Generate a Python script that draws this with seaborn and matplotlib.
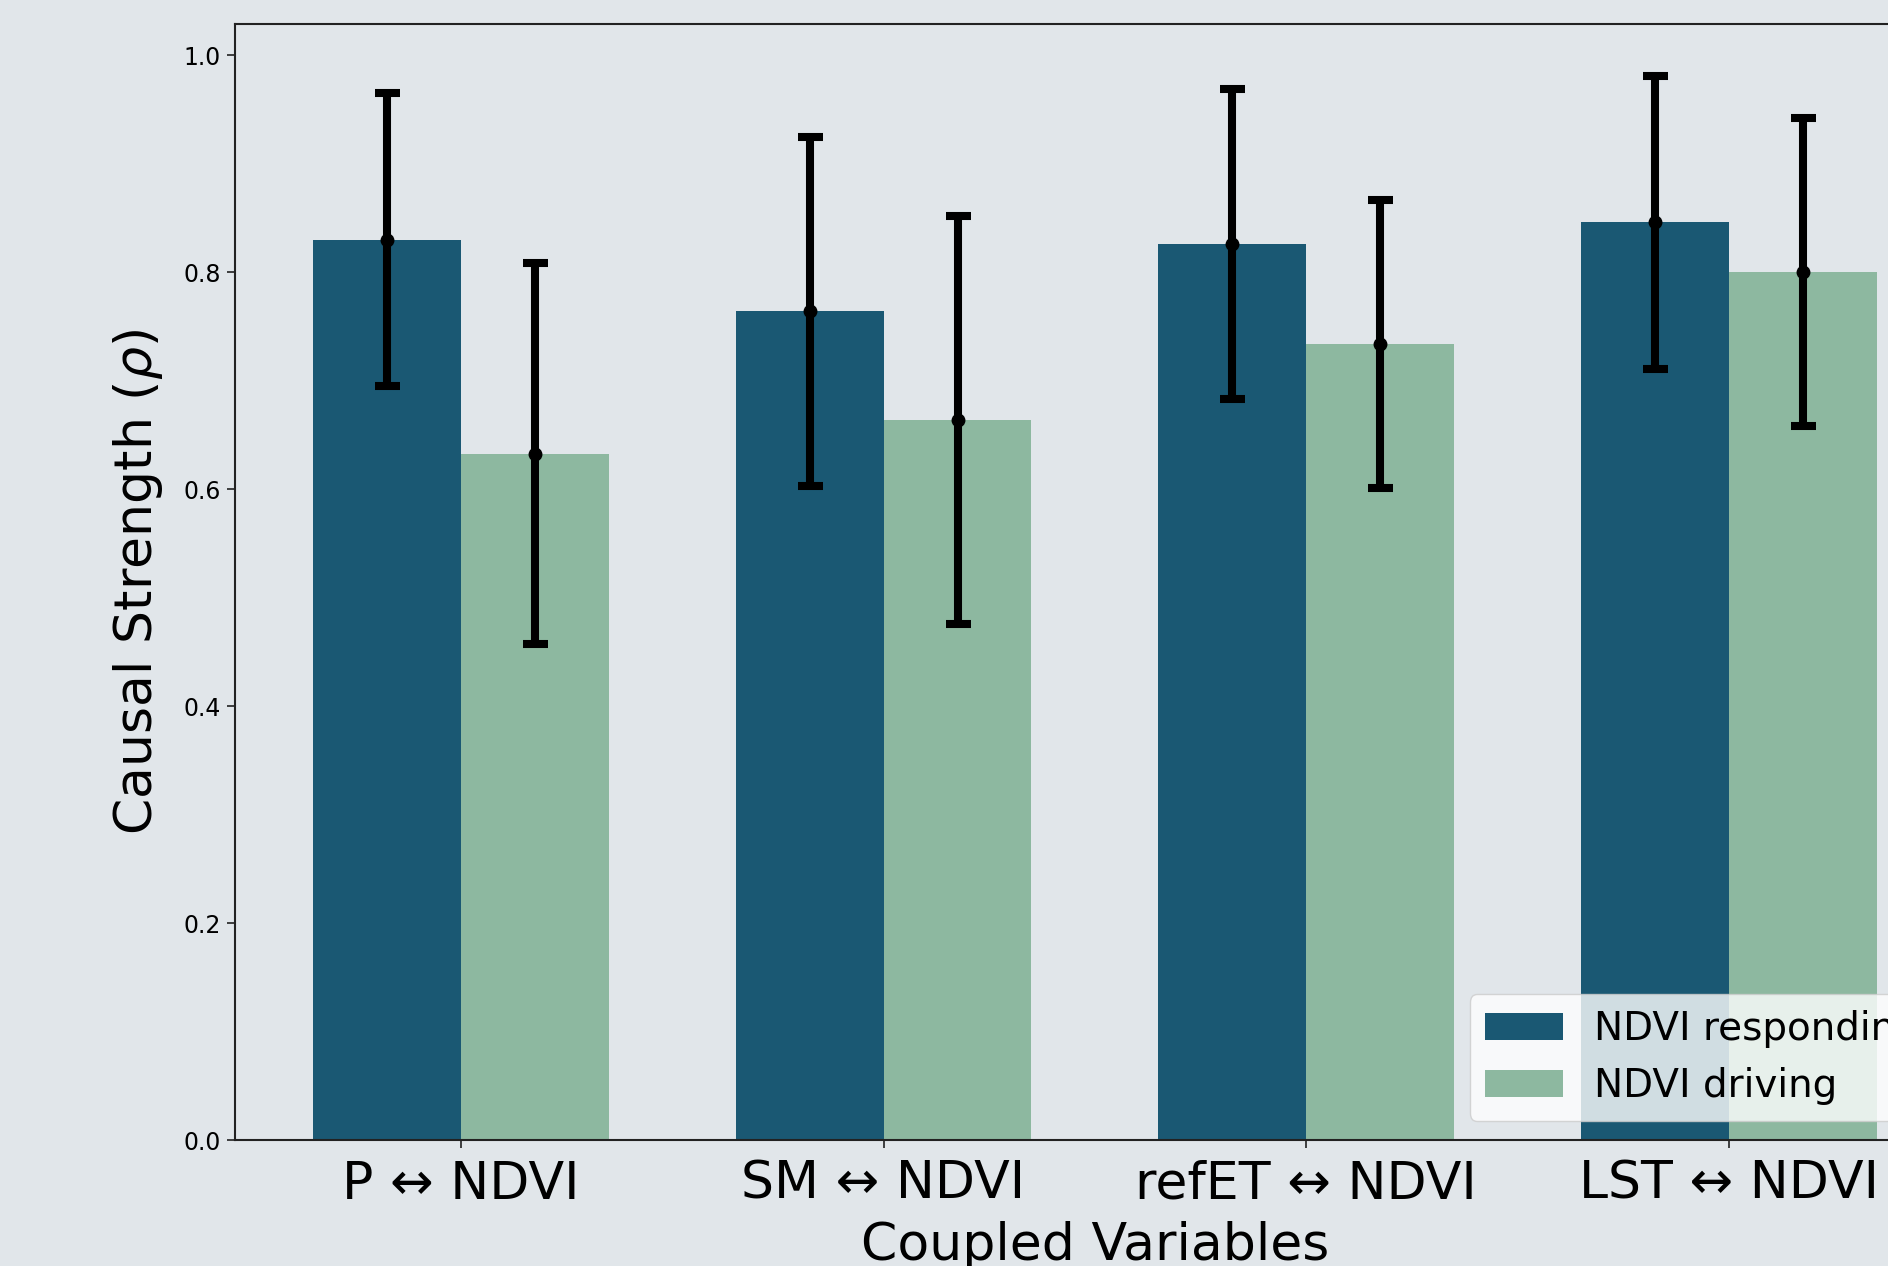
import numpy as np
import pandas as pd
import seaborn as sns
import matplotlib
matplotlib.use("Agg")
import matplotlib.pyplot as plt

# Coupled variable pairs and causal strength estimates
pairs = ["P ↔ NDVI", "SM ↔ NDVI", "refET ↔ NDVI", "LST ↔ NDVI"]
directions = ["NDVI responding", "NDVI driving"]
responding_mean = [0.830, 0.764, 0.826, 0.846]
responding_err = [0.135, 0.161, 0.143, 0.135]
driving_mean = [0.633, 0.664, 0.734, 0.800]
driving_err = [0.176, 0.188, 0.133, 0.142]

df = pd.DataFrame({
    "pair": pairs * 2,
    "direction": [directions[0]] * 4 + [directions[1]] * 4,
    "rho": responding_mean + driving_mean,
    "err": responding_err + driving_err,
})

bg = "#e1e6ea"
palette = {"NDVI responding": "#1a5873", "NDVI driving": "#8db8a0"}

sns.set_style("white")
plt.rcParams["font.family"] = ["DejaVu Sans"]
plt.rcParams["text.color"] = "black"
plt.rcParams["axes.labelcolor"] = "black"
plt.rcParams["xtick.color"] = "black"
plt.rcParams["ytick.color"] = "black"

fig = plt.figure(figsize=(18.88, 12.66), dpi=100, facecolor=bg)
ax = fig.add_axes([0.1244, 0.0993, 0.911, 0.8818])
ax.set_facecolor(bg)

sns.barplot(data=df, x="pair", y="rho", hue="direction", order=pairs,
            hue_order=directions, palette=palette, width=0.7,
            saturation=1, errorbar=None, linewidth=0, ax=ax)

# error bars centred on each bar
for cont, d in zip(ax.containers, directions):
    sub = df[df["direction"] == d].set_index("pair").loc[pairs]
    xs = [p.get_x() + p.get_width() / 2 for p in cont.patches]
    ax.errorbar(xs, sub["rho"].values, yerr=sub["err"].values, fmt="o",
                color="black", ecolor="black", markersize=9,
                elinewidth=5.8, capsize=9, capthick=5.8, zorder=5)

ax.set_xlim(-0.535, 3.535)
ax.set_ylim(0, 1.029)
ax.set_yticks([0.0, 0.2, 0.4, 0.6, 0.8, 1.0])

for s in ax.spines.values():
    s.set_color("#222222")
    s.set_linewidth(1.5)

ax.tick_params(axis="y", labelsize=17, length=6, width=1.2, color="#222222",
               labelcolor="black", left=True, pad=4)
ax.tick_params(axis="x", labelsize=37.5, length=6, width=1.2, color="#222222",
               labelcolor="black", bottom=True, pad=8)

ax.set_xlabel("Coupled Variables", fontsize=37.5, labelpad=8, color="black")
ax.set_ylabel(r"Causal Strength ($\rho$)", fontsize=37.5, labelpad=13,
              color="black")

leg = ax.legend(loc="lower right", fontsize=28, frameon=True, fancybox=True,
                framealpha=0.8, edgecolor="#cccccc", handlelength=2.0,
                handleheight=0.7)
leg.get_frame().set_facecolor("white")
for t in leg.get_texts():
    t.set_color("black")

fig.savefig("out.png", dpi=100, facecolor=bg)
